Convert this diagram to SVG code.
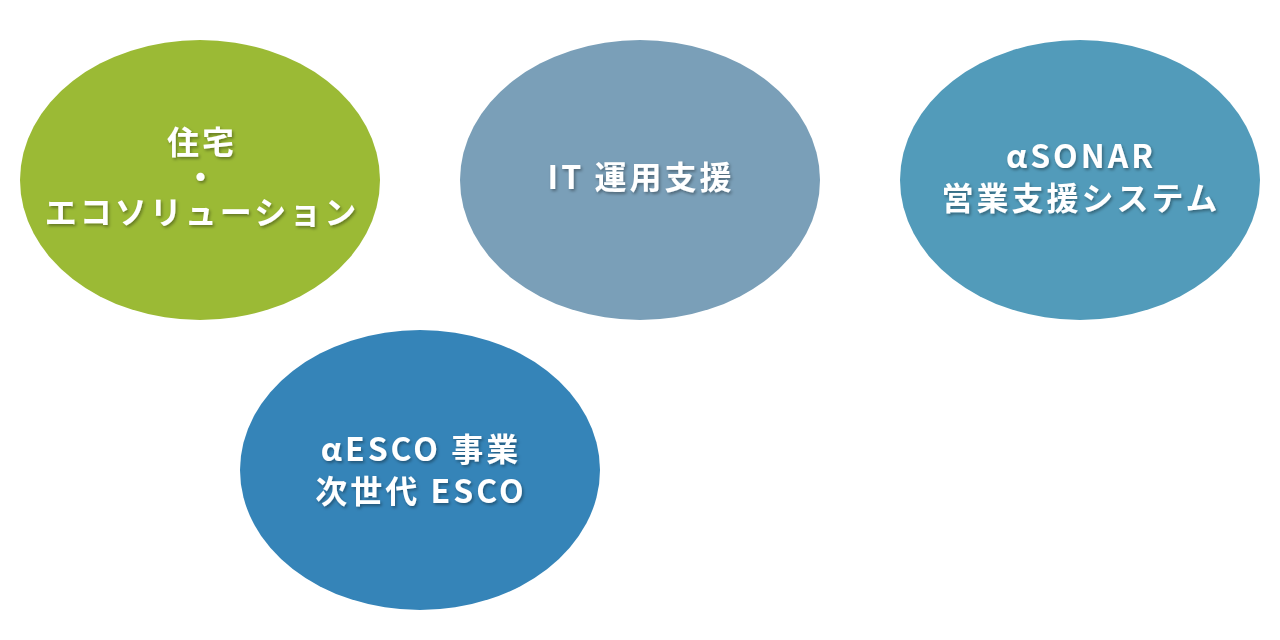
<svg xmlns="http://www.w3.org/2000/svg" width="1280" height="640" viewBox="0 0 1280 640">
<defs>
<filter id="sh" x="-10%" y="-30%" width="120%" height="160%">
<feDropShadow dx="1.5" dy="2" stdDeviation="1.5" flood-color="#000" flood-opacity="0.35"/>
</filter>
</defs>
<style>
.t{font-family:"Noto Sans CJK JP","Noto Sans",sans-serif;font-size:32px;font-weight:bold;fill:#fff;text-anchor:middle;letter-spacing:3px;filter:url(#sh)}
</style>
<rect width="1280" height="640" fill="#fff"/>
<g id="connectors"></g>
<g id="n1">
<ellipse cx="200" cy="180" rx="180" ry="140" fill="#9BBA35"/>
<text class="t" x="202" y="154">住宅</text>
<text class="t" x="202" y="189">・</text>
<text class="t" x="202" y="224">エコソリューション</text>
</g>
<g id="n2">
<ellipse cx="640" cy="180" rx="180" ry="140" fill="#7A9FB8"/>
<text class="t" x="641" y="189">IT 運用支援</text>
</g>
<g id="n3">
<ellipse cx="1080" cy="180" rx="180" ry="140" fill="#529BBA"/>
<text class="t" x="1081" y="168">αSONAR</text>
<text class="t" x="1081" y="210">営業支援システム</text>
</g>
<g id="n4">
<ellipse cx="420" cy="470" rx="180" ry="140" fill="#3584B8"/>
<text class="t" x="421" y="461">αESCO 事業</text>
<text class="t" x="421" y="503">次世代 ESCO</text>
</g>
</svg>
